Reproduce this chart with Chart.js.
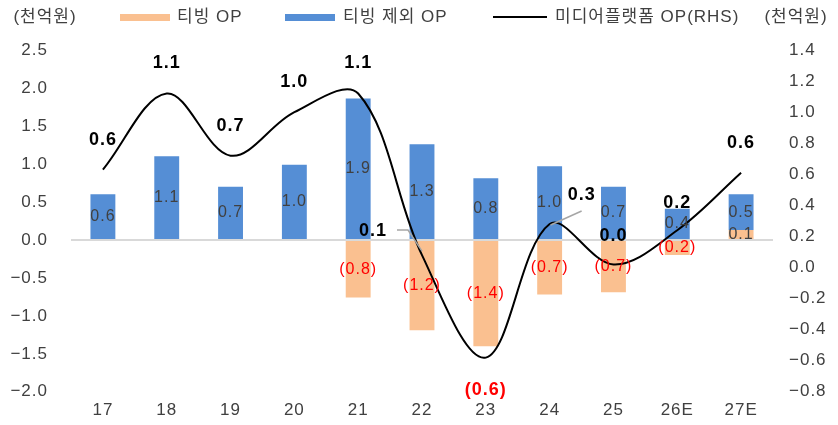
<!DOCTYPE html>
<html>
<head>
<meta charset="utf-8">
<script src="https://cdn.jsdelivr.net/npm/chart.js@4.4.1/dist/chart.umd.min.js"></script>
<style>
  html, body { margin: 0; padding: 0; background: #fff; }
  #wrap { width: 838px; height: 425px; }
</style>
</head>
<body>
<div id="wrap"><canvas id="chart"></canvas></div>
<script>
const years = ['17', '18', '19', '20', '21', '22', '23', '24', '25', '26E', '27E'];
const tvingOP = [null, null, null, null, -0.76, -1.19, -1.40, -0.72, -0.69, -0.20, 0.13];   // 티빙 OP
const exTvingOP = [0.60, 1.10, 0.70, 0.99, 1.86, 1.26, 0.81, 0.97, 0.70, 0.41, 0.47];      // 티빙 제외 OP
const mediaOP = [0.63, 1.12, 0.72, 1.00, 1.12, 0.08, -0.58, 0.28, 0.02, 0.24, 0.61];       // 미디어플랫폼 OP (RHS)
const unitLabel = '(천억원)';

const FONT = "'Liberation Sans', 'Noto Sans CJK KR', sans-serif";
const TEXT = '#404040';

function fmt(v) {
  const s = Math.abs(v).toFixed(1);
  return v < 0 ? '(' + s + ')' : s;
}

// where the line's value labels sit, relative to the point (default: above)
const lineLabelPos = {
  5: { dx: -49, dy: -24, leader: [[-25, -25], [-14, -25], [0, -4]] },
  6: { dx: 0, dy: 32 },
  7: { dx: 32, dy: -29, leader: [[1, 1], [32, -13]] },
  8: { dx: 0, dy: -28 },
  9: { dx: 0, dy: -27 }
};

const spacing = {
  id: 'spacing',
  beforeLayout(chart) { chart.ctx.letterSpacing = '1px'; },
  beforeDraw(chart) { chart.ctx.letterSpacing = '1px'; }
};

const valueLabels = {
  id: 'valueLabels',
  afterDatasetsDraw(chart) {
    const ctx = chart.ctx;
    ctx.save();
    ctx.textAlign = 'center';
    ctx.textBaseline = 'middle';
    // bar labels
    ctx.font = '16px ' + FONT;
    [1, 2].forEach((di) => {
      const meta = chart.getDatasetMeta(di);
      const vals = chart.data.datasets[di].data;
      meta.data.forEach((bar, i) => {
        const v = vals[i];
        if (v === null || v === undefined) return;
        ctx.fillStyle = v < 0 ? '#ff0000' : TEXT;
        ctx.fillText(fmt(v), bar.x, (bar.y + bar.base) / 2);
      });
    });
    // line labels
    const lmeta = chart.getDatasetMeta(0);
    ctx.font = 'bold 18px ' + FONT;
    lmeta.data.forEach((pt, i) => {
      const v = mediaOP[i];
      const p = lineLabelPos[i] || { dx: 0, dy: -30 };
      if (p.leader) {
        ctx.strokeStyle = '#a6a6a6';
        ctx.lineWidth = 1.5;
        ctx.beginPath();
        p.leader.forEach(([lx, ly], k) => {
          if (k === 0) ctx.moveTo(pt.x + lx, pt.y + ly);
          else ctx.lineTo(pt.x + lx, pt.y + ly);
        });
        ctx.stroke();
      }
      ctx.fillStyle = v < 0 ? '#ff0000' : '#000';
      ctx.fillText(fmt(v), pt.x + p.dx, pt.y + p.dy);
    });
    ctx.restore();
  }
};

const topLegend = {
  id: 'topLegend',
  afterDraw(chart) {
    const ctx = chart.ctx;
    const ds = chart.data.datasets;
    ctx.save();
    ctx.font = '17px ' + FONT;
    ctx.fillStyle = TEXT;
    ctx.textBaseline = 'middle';
    ctx.textAlign = 'center';
    ctx.fillText(unitLabel, 45, 17);
    ctx.fillText(unitLabel, 796, 17);
    ctx.textAlign = 'left';
    // 티빙 OP
    ctx.fillStyle = ds[1].backgroundColor;
    ctx.fillRect(120, 14, 50, 7);
    ctx.fillStyle = TEXT;
    ctx.fillText(ds[1].label, 177, 17);
    // 티빙 제외 OP
    ctx.fillStyle = ds[2].backgroundColor;
    ctx.fillRect(285, 14, 50, 7);
    ctx.fillStyle = TEXT;
    ctx.fillText(ds[2].label, 343, 17);
    // 미디어플랫폼 OP(RHS)
    ctx.strokeStyle = ds[0].borderColor;
    ctx.lineWidth = 2;
    ctx.beginPath();
    ctx.moveTo(493, 17);
    ctx.lineTo(547, 17);
    ctx.stroke();
    ctx.fillText(ds[0].label, 555, 17);
    ctx.restore();
  }
};

new Chart(document.getElementById('chart'), {
  type: 'bar',
  data: {
    labels: years,
    datasets: [
      {
        type: 'line',
        label: '미디어플랫폼 OP(RHS)',
        data: mediaOP,
        yAxisID: 'y1',
        borderColor: '#000',
        borderWidth: 2,
        pointRadius: 0,
        tension: 0.35,
        order: 0
      },
      {
        label: '티빙 OP',
        data: tvingOP,
        backgroundColor: '#FAC090',
        yAxisID: 'y',
        stack: 'op',
        order: 1
      },
      {
        label: '티빙 제외 OP',
        data: exTvingOP,
        backgroundColor: '#558ED5',
        yAxisID: 'y',
        stack: 'op',
        order: 2
      }
    ]
  },
  options: {
    responsive: true,
    maintainAspectRatio: false,
    animation: false,
    layout: { padding: { top: 50, left: 0, right: 0, bottom: 0 } },
    datasets: {
      bar: { categoryPercentage: 1, barPercentage: 0.39 }
    },
    scales: {
      x: {
        stacked: true,
        grid: { display: false, drawTicks: false },
        border: { display: false },
        ticks: { color: TEXT, font: { family: FONT, size: 17 }, padding: 8, maxRotation: 0 },
        afterFit: (s) => { s.height = 30; }
      },
      y: {
        stacked: true,
        position: 'left',
        min: -2,
        max: 2.5,
        grid: {
          drawTicks: false,
          lineWidth: 2,
          color: (c) => (c.tick && c.tick.value === 0 ? '#d9d9d9' : 'rgba(0,0,0,0)')
        },
        border: { display: false },
        ticks: {
          stepSize: 0.5,
          padding: 23,
          color: TEXT,
          font: { family: FONT, size: 17 },
          callback: (v) => Number(v).toFixed(1).replace('-', '\u2212')
        },
        afterFit: (s) => { s.width = 71; }
      },
      y1: {
        position: 'right',
        min: -0.8,
        max: 1.4,
        grid: { display: false, drawTicks: false },
        border: { display: false },
        ticks: {
          stepSize: 0.2,
          padding: 16,
          color: TEXT,
          font: { family: FONT, size: 17 },
          callback: (v) => Number(v).toFixed(1).replace('-', '\u2212')
        },
        afterFit: (s) => { s.width = 65; }
      }
    },
    plugins: {
      legend: { display: false },
      tooltip: { enabled: false }
    }
  },
  plugins: [spacing, valueLabels, topLegend]
});
</script>
</body>
</html>
